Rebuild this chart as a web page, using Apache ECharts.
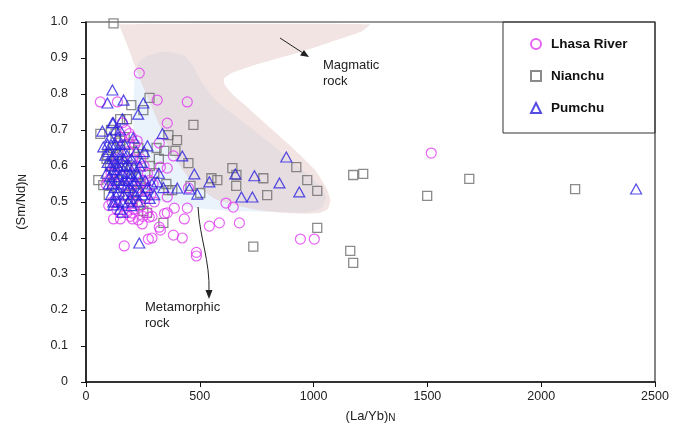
<!DOCTYPE html>
<html><head><meta charset="utf-8">
<script src="https://cdn.jsdelivr.net/npm/echarts@6/dist/echarts.min.js"></script>
<style>html,body{margin:0;padding:0;background:#fff}#c{width:673px;height:439px}</style>
</head><body><div id="c"></div>
<script>
var xTicks = [0, 500, 1000, 1500, 2000, 2500];
var yTicks = [0, 0.1, 0.2, 0.3, 0.4, 0.5, 0.6, 0.7, 0.8, 0.9, 1.0];

var lhasa = [
[63,0.778],[138,0.778],[234,0.858],[313,0.783],[445,0.778],[357,0.719],[322,0.664],[384,0.628],[327,0.597],[357,0.594],
[450,0.539],[615,0.497],[647,0.486],[674,0.442],[586,0.442],[542,0.433],[942,0.397],[1003,0.397],[485,0.36],[485,0.35],
[423,0.4],[384,0.408],[274,0.397],[290,0.4],[168,0.378],[327,0.422],[322,0.43],[432,0.453],[445,0.483],[388,0.483],
[357,0.47],[345,0.468],[247,0.439],[278,0.458],[204,0.453],[151,0.453],[121,0.453],[204,0.469],[357,0.514],[1517,0.636],
[160,0.72],[175,0.7],[190,0.69],[200,0.68],[215,0.66],[225,0.67],[150,0.68],[170,0.66],[185,0.64],[205,0.62],
[220,0.6],[240,0.62],[255,0.6],[270,0.58],[280,0.56],[295,0.55],[110,0.58],[125,0.6],[140,0.62],[100,0.56],
[115,0.5],[135,0.48],[150,0.47],[165,0.49],[180,0.47],[195,0.46],[210,0.48],[225,0.5],[240,0.49],[260,0.51],
[175,0.52],[190,0.53],[205,0.55],[230,0.54],[250,0.56],[265,0.53],[285,0.52],[300,0.5],[145,0.55],[160,0.57],
[130,0.5],[100,0.49],[88,0.55],[270,0.47],[290,0.46],[250,0.46],[230,0.45],[195,0.5]
];

var nianchu = [
[121,0.996],[199,0.769],[279,0.789],[252,0.755],[472,0.714],[362,0.686],[400,0.672],[63,0.689],[344,0.642],[393,0.642],
[450,0.608],[643,0.594],[924,0.597],[551,0.566],[577,0.561],[661,0.575],[660,0.545],[779,0.566],[972,0.561],[796,0.519],
[1016,0.531],[1174,0.575],[1218,0.578],[1684,0.564],[1499,0.517],[2149,0.536],[1161,0.364],[1174,0.331],[1016,0.428],[735,0.376],
[502,0.525],[459,0.545],[340,0.442],[252,0.475],[268,0.47],[379,0.533],[362,0.533],[353,0.55],[239,0.492],[54,0.561],
[76,0.547],[94,0.631],[252,0.633],
[110,0.7],[130,0.69],[150,0.67],[170,0.68],[190,0.66],[210,0.64],[230,0.65],[120,0.65],[140,0.63],[160,0.61],
[180,0.6],[200,0.59],[220,0.57],[240,0.55],[260,0.54],[280,0.6],[300,0.58],[105,0.6],[125,0.58],[145,0.56],
[165,0.54],[185,0.52],[205,0.5],[225,0.53],[100,0.52],[115,0.55],[90,0.62],[150,0.73],[180,0.73],[320,0.62],[310,0.65]
];

var pumchu = [
[116,0.811],[94,0.775],[165,0.783],[252,0.775],[229,0.744],[160,0.731],[116,0.72],[72,0.697],[336,0.69],[76,0.653],
[207,0.678],[270,0.656],[423,0.628],[880,0.625],[476,0.578],[656,0.578],[740,0.573],[542,0.556],[850,0.553],[937,0.528],
[683,0.514],[731,0.514],[489,0.522],[454,0.536],[401,0.539],[313,0.556],[234,0.386],[160,0.472],[121,0.492],[2417,0.536],
[100,0.64],[110,0.66],[120,0.63],[130,0.61],[140,0.6],[150,0.62],[160,0.58],[105,0.57],[115,0.55],[125,0.54],
[135,0.56],[145,0.53],[155,0.55],[165,0.52],[175,0.54],[185,0.5],[195,0.51],[205,0.53],[215,0.56],[225,0.58],
[235,0.6],[245,0.61],[255,0.64],[130,0.66],[140,0.68],[150,0.7],[170,0.66],[180,0.63],[190,0.6],[200,0.57],
[210,0.55],[220,0.52],[230,0.5],[240,0.53],[260,0.56],[270,0.54],[280,0.51],[290,0.55],[120,0.59],[110,0.6],
[95,0.61],[85,0.63],[90,0.58],[100,0.55],[110,0.52],[120,0.5],[130,0.52],[140,0.5],[150,0.48],[160,0.5],
[170,0.56],[180,0.58],[190,0.54],[200,0.49],[125,0.57],[135,0.59],[145,0.57],[155,0.6],[165,0.62],[175,0.6],
[185,0.56],[195,0.58],[140,0.64],[150,0.66],[160,0.64],[130,0.7],[120,0.72],[200,0.62],[210,0.6],[220,0.64],
[230,0.57],[250,0.52],[300,0.52],[320,0.58],[340,0.54],[115,0.62],[105,0.68],[95,0.66]
];

// field outlines (data space)
var magmaticField = [
[142,0.994],[1249,0.994],[1205,0.972],[1073,0.944],[897,0.908],[744,0.881],[640,0.858],[605,0.842],[610,0.825],[650,0.795],[700,0.769],
[809,0.706],[919,0.644],[1007,0.589],[1055,0.54],[1074,0.505],[1062,0.48],[1025,0.47],[960,0.467],[853,0.47],[722,0.481],[568,0.508],
[458,0.561],[370,0.644],[304,0.742],[238,0.839],[186,0.928],[151,0.983]
];
var metamorphicField = [
[226,0.881],[260,0.903],[310,0.914],[370,0.917],[430,0.907],[470,0.88],[502,0.839],[568,0.783],[678,0.728],[809,0.664],[941,0.594],[1020,0.55],
[1055,0.515],[1038,0.485],[980,0.473],[897,0.471],[678,0.474],[502,0.482],[370,0.496],[260,0.511],[217,0.547],[208,0.644],[208,0.756],[213,0.839]
];

function fieldSeries(name, pts, fill) {
  return {
    type: 'custom', name: name, silent: true, z: 1,
    data: [0],
    renderItem: function (params, api) {
      var p = pts.map(function (d) { return api.coord(d); });
      return { type: 'polygon', shape: { points: p, smooth: 0.12 }, style: { fill: fill, stroke: 'none' } };
    }
  };
}

var chart = echarts.init(document.getElementById('c'));
var FONT = 'Liberation Sans';
chart.setOption({
  animation: false,
  backgroundColor: '#fff',
  grid: { left: 86, right: 18, top: 22, bottom: 57, show: true, borderColor: '#333', borderWidth: 1.2 },
  xAxis: {
    type: 'value', min: 0, max: 2500, interval: 500,
    name: '{a|(La/Yb)}{s|N}', nameLocation: 'middle', nameGap: 27,
    nameTextStyle: { rich: { a: { fontFamily: FONT, fontSize: 13, color: '#222' }, s: { fontFamily: FONT, fontSize: 10, color: '#222', padding: [4, 0, 0, 0] } } },
    axisLine: { lineStyle: { color: '#111', width: 1.5 } },
    axisTick: { show: true, length: 5, lineStyle: { color: '#111' } },
    axisLabel: { fontFamily: FONT, fontSize: 12.5, color: '#222', margin: 8, formatter: function (v) { return String(v); } },
    splitLine: { show: false }
  },
  yAxis: {
    type: 'value', min: 0, max: 1, interval: 0.1,
    name: '{a|(Sm/Nd)}{s|N}', nameLocation: 'middle', nameGap: 58, nameRotate: 90,
    nameTextStyle: { rich: { a: { fontFamily: FONT, fontSize: 13, color: '#222' }, s: { fontFamily: FONT, fontSize: 10, color: '#222', padding: [4, 0, 0, 0] } } },
    axisLine: { lineStyle: { color: '#111', width: 1.5 } },
    axisTick: { show: true, length: 5, lineStyle: { color: '#111' } },
    axisLabel: { fontFamily: FONT, fontSize: 12.5, color: '#222', margin: 18,
      formatter: function (v) { return v === 0 ? '0' : v.toFixed(1); } },
    splitLine: { show: false }
  },
  legend: {
    orient: 'vertical', left: 525, top: 32, itemGap: 18, itemWidth: 10, itemHeight: 10,
    data: ['Lhasa River', 'Nianchu', 'Pumchu'],
    textStyle: { fontFamily: FONT, fontWeight: 'bold', fontSize: 13.5, color: '#111', padding: [0, 0, 0, 5] }
  },
  graphic: [
    { type: 'rect', shape: { x: 503, y: 22, width: 152, height: 111 }, style: { fill: 'none', stroke: '#333', lineWidth: 1 }, z: 10 },
    { type: 'text', left: 323, top: 57, style: { text: 'Magmatic\nrock', font: '13px Liberation Sans', fill: '#222', lineHeight: 16 }, z: 10 },
    { type: 'line', shape: { x1: 280, y1: 38, x2: 303, y2: 53 }, style: { stroke: '#222', lineWidth: 1 }, z: 10 },
    { type: 'polygon', shape: { points: [[309, 57], [300, 55.5], [304, 50]] }, style: { fill: '#222' }, z: 10 },
    { type: 'text', left: 145, top: 299, style: { text: 'Metamorphic\nrock', font: '13px Liberation Sans', fill: '#222', lineHeight: 16 }, z: 10 },
    { type: 'bezierCurve', shape: { x1: 198, y1: 207, cpx1: 200, cpy1: 240, cpx2: 210, cpy2: 260, x2: 209, y2: 292 }, style: { stroke: '#222', lineWidth: 1, fill: 'none' }, z: 10 },
    { type: 'polygon', shape: { points: [[209, 299], [205.5, 290], [212.5, 290]] }, style: { fill: '#222' }, z: 10 }
  ],
  series: [
    fieldSeries('m2', metamorphicField, '#eaf3fb'),
    fieldSeries('m1', magmaticField, 'rgba(225,188,188,0.4)'),
    { name: 'Nianchu', type: 'scatter', symbol: 'rect', symbolSize: 9, data: nianchu, z: 3,
      itemStyle: { color: 'rgba(0,0,0,0)', borderColor: '#6e6e6e', borderWidth: 1.3 } },
    { name: 'Lhasa River', type: 'scatter', symbol: 'circle', symbolSize: 10, data: lhasa, z: 4,
      itemStyle: { color: 'rgba(0,0,0,0)', borderColor: '#e03cf0', borderWidth: 1.2 } },
    { name: 'Pumchu', type: 'scatter', symbol: 'triangle', symbolSize: [11, 10], data: pumchu, z: 5,
      itemStyle: { color: 'rgba(0,0,0,0)', borderColor: '#2a1fe0', borderWidth: 1.2 } }
  ]
});
</script>
</body></html>
